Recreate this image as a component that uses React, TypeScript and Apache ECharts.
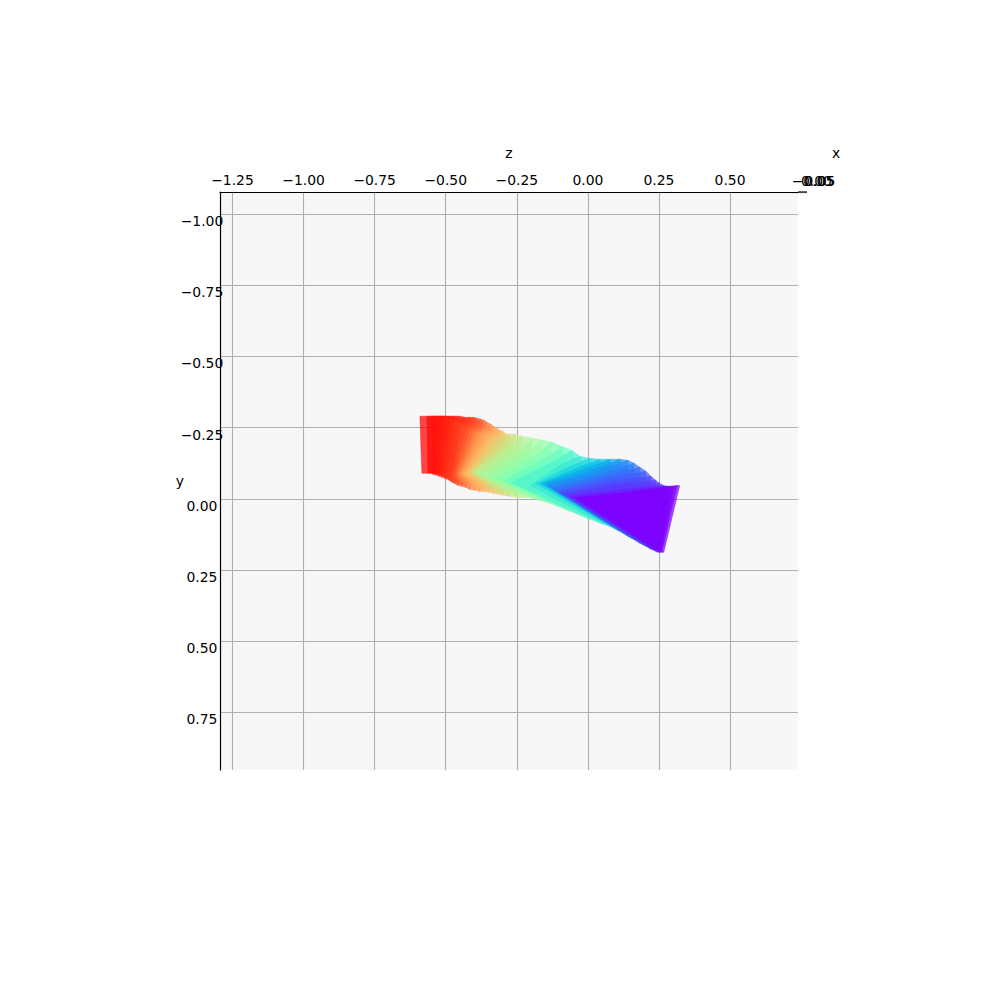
import React, { useEffect, useRef } from "react";
import * as echarts from "echarts";

const zTicks = [-1.25, -1.0, -0.75, -0.5, -0.25, 0, 0.25, 0.5];
const yTicks = [-1.0, -0.75, -0.5, -0.25, 0, 0.25, 0.5, 0.75];
const xTickLabels = ["−0.05", "0.00", "0.05"];

const shoulderZ = [-0.591,-0.566,-0.545,-0.527,-0.513,-0.499,-0.485,-0.471,-0.457,-0.443,-0.429,-0.415,-0.401,-0.387,-0.373,-0.359,-0.345,-0.331,-0.316,-0.299,-0.281,-0.260,-0.232,-0.204,-0.176,-0.148,-0.120,-0.098,-0.077,-0.056,-0.035,-0.014,0.007,0.025,0.042,0.060,0.077,0.091,0.105,0.120,0.134,0.141,0.148,0.148];
const shoulderY = [-0.290,-0.290,-0.290,-0.286,-0.283,-0.279,-0.272,-0.265,-0.258,-0.251,-0.244,-0.237,-0.234,-0.230,-0.227,-0.223,-0.220,-0.216,-0.213,-0.209,-0.202,-0.195,-0.181,-0.167,-0.156,-0.142,-0.132,-0.118,-0.107,-0.100,-0.097,-0.090,-0.086,-0.079,-0.076,-0.069,-0.061,-0.054,-0.047,-0.033,-0.030,-0.023,-0.023,-0.023];
const upperZ = [-0.503,-0.485,-0.468,-0.450,-0.432,-0.415,-0.401,-0.390,-0.376,-0.366,-0.355,-0.341,-0.331,-0.320,-0.309,-0.299,-0.292,-0.285,-0.274,-0.257,-0.232,-0.197,-0.162,-0.127,-0.091,-0.056,-0.028,0.007,0.042,0.077,0.113,0.141,0.162,0.183,0.204,0.222,0.239,0.253,0.267,0.281,0.292,0.302,0.313,0.323];
const upperY = [-0.290,-0.290,-0.290,-0.290,-0.286,-0.286,-0.286,-0.283,-0.279,-0.276,-0.269,-0.262,-0.255,-0.248,-0.241,-0.237,-0.230,-0.227,-0.227,-0.227,-0.220,-0.213,-0.206,-0.199,-0.184,-0.170,-0.149,-0.142,-0.139,-0.139,-0.139,-0.135,-0.125,-0.111,-0.097,-0.079,-0.065,-0.054,-0.047,-0.044,-0.044,-0.044,-0.047,-0.047];
const lowerZ = [-0.520,-0.513,-0.506,-0.499,-0.492,-0.485,-0.478,-0.468,-0.457,-0.443,-0.429,-0.415,-0.397,-0.380,-0.366,-0.348,-0.331,-0.313,-0.295,-0.274,-0.246,-0.211,-0.183,-0.134,-0.063,0.007,0.056,0.084,0.105,0.127,0.141,0.155,0.169,0.183,0.197,0.211,0.222,0.232,0.239,0.246,0.253,0.257,0.260,0.267];
const lowerY = [-0.090,-0.086,-0.083,-0.079,-0.072,-0.065,-0.058,-0.054,-0.047,-0.044,-0.040,-0.033,-0.030,-0.026,-0.026,-0.023,-0.019,-0.016,-0.012,-0.009,-0.005,-0.005,0.002,0.016,0.044,0.072,0.090,0.100,0.111,0.121,0.132,0.139,0.146,0.156,0.163,0.170,0.177,0.181,0.184,0.188,0.188,0.188,0.188,0.188];
const apexZ = [-0.584,-0.563,-0.548,-0.538,-0.527,-0.517,-0.506,-0.496,-0.485,-0.478,-0.471,-0.464,-0.457,-0.450,-0.443,-0.436,-0.429,-0.422,-0.415,-0.411,-0.408,-0.401,-0.380,-0.352,-0.323,-0.295,-0.267,-0.204,-0.183,-0.169,-0.158,-0.148,-0.141,-0.130,-0.120,-0.109,-0.098,-0.088,-0.077,-0.067,-0.060,-0.049,-0.042,-0.035];
const apexY = [-0.090,-0.090,-0.086,-0.083,-0.079,-0.076,-0.072,-0.072,-0.076,-0.079,-0.079,-0.083,-0.083,-0.086,-0.086,-0.086,-0.090,-0.090,-0.093,-0.093,-0.093,-0.090,-0.086,-0.079,-0.072,-0.065,-0.058,-0.047,-0.054,-0.054,-0.054,-0.051,-0.047,-0.040,-0.033,-0.026,-0.023,-0.019,-0.016,-0.012,-0.009,-0.005,-0.002,-0.002];
const frameShade = [1,0.99,0.98,0.97,0.96,0.95,0.94,0.93,0.92,0.9,0.88,0.85,0.82,0.79,0.77,0.75,0.73,0.71,0.69,0.67,0.64,0.6,0.57,0.54,0.5,0.45,0.4,0.36,0.31,0.27,0.23,0.2,0.18,0.16,0.135,0.115,0.095,0.08,0.065,0.05,0.035,0.02,0.01,0];

const rainbow = (t: number) => {
  const r = Math.min(1, Math.abs(2 * t - 0.5));
  const g = Math.sin(Math.PI * t);
  const b = Math.cos((Math.PI * t) / 2);
  return `rgb(${Math.round(r * 255)},${Math.round(g * 255)},${Math.round(b * 255)})`;
};

const fmt = (v: number) => {
  const s = Math.abs(v).toFixed(2);
  return v < 0 ? "−" + s : s;
};

const FONT = '"DejaVu Sans"';
const SIZE = 13.9;

export default function App() {
  const ref = useRef<HTMLDivElement>(null);
  useEffect(() => {
    const chart = echarts.init(ref.current!, undefined, { renderer: "svg" });
    const rows = shoulderZ.map((_, i) => {
      const p = Math.max(0, i - 1);
      return [
        shoulderZ[i], shoulderY[i],
        upperZ[p], upperY[p],
        upperZ[i], upperY[i],
        lowerZ[i], lowerY[i],
        lowerZ[p], lowerY[p],
        apexZ[i], apexY[i],
        frameShade[i],
      ];
    });
    chart.setOption({
      animation: false,
      backgroundColor: "#ffffff",
      textStyle: { fontFamily: FONT },
      grid: {
        left: 220, top: 192, right: 192, bottom: 219,
        show: true, backgroundColor: "#f7f7f7", borderWidth: 0,
      },
      xAxis: {
        type: "value", position: "top", min: -1.294, max: 0.739,
        name: "z", nameLocation: "middle", nameGap: 32,
        nameTextStyle: { color: "#000", fontSize: SIZE, fontFamily: FONT },
        axisLine: { show: true, onZero: false, lineStyle: { color: "#000", width: 1.2 } },
        axisTick: { show: false, customValues: zTicks },
        axisLabel: {
          customValues: zTicks, formatter: fmt, margin: 5, color: "#000",
          fontSize: SIZE, fontFamily: FONT, hideOverlap: false,
        },
        splitLine: { show: true, lineStyle: { color: "#b0b0b0", width: 1.1 } },
      },
      yAxis: {
        type: "value", inverse: true, position: "left", min: -1.077, max: 0.952,
        name: "y", nameLocation: "middle", nameGap: 36, nameRotate: 0, nameMoveOverlap: false,
        nameTextStyle: { color: "#000", fontSize: SIZE, fontFamily: FONT },
        axisLine: { show: true, onZero: false, lineStyle: { color: "#000", width: 1.2 } },
        axisTick: { show: false, customValues: yTicks },
        axisLabel: {
          customValues: yTicks, formatter: fmt, margin: 18, align: "center",
          verticalAlign: "top", lineHeight: 14, color: "#000",
          fontSize: SIZE, fontFamily: FONT, hideOverlap: false,
        },
        splitLine: { show: true, lineStyle: { color: "#b0b0b0", width: 1.1 } },
      },
      graphic: [
        { type: "line", silent: true, shape: { x1: 798, y1: 192, x2: 807, y2: 192 }, style: { stroke: "#000", lineWidth: 1.2 } },
        { type: "line", silent: true, shape: { x1: 792, y1: 192.6, x2: 807, y2: 192.6 }, style: { stroke: "#444", lineWidth: 1 } },
        { type: "text", silent: true, x: 836, y: 153, style: { text: "x", fill: "#000", font: `${SIZE}px ${FONT}`, textAlign: "center", textVerticalAlign: "middle" } },
        ...xTickLabels.map((t, i) => ({
          type: "text", silent: true, x: 813 + i * 3.5, y: 181,
          style: { text: t, fill: "#000", font: `${SIZE}px ${FONT}`, textAlign: "center", textVerticalAlign: "middle" },
        })),
      ],
      series: [
        {
          type: "custom",
          coordinateSystem: "cartesian2d",
          data: rows,
          silent: true,
          clip: false,
          encode: { x: [0, 4, 6, 10], y: [1, 5, 7, 11] },
          renderItem: (_p: any, api: any) => {
            const pts = [0, 2, 4, 6, 8, 10].map((d) => api.coord([api.value(d), api.value(d + 1)]));
            const color = rainbow(api.value(12));
            return {
              type: "polygon",
              shape: { points: pts },
              style: { fill: color, stroke: color, lineWidth: 0.5, opacity: 0.72 },
            };
          },
        },
      ],
    });
    return () => chart.dispose();
  }, []);
  return (
    <div
      ref={ref}
      style={{ position: "absolute", left: 0, top: 0, width: 990, height: 989 }}
    />
  );
}
